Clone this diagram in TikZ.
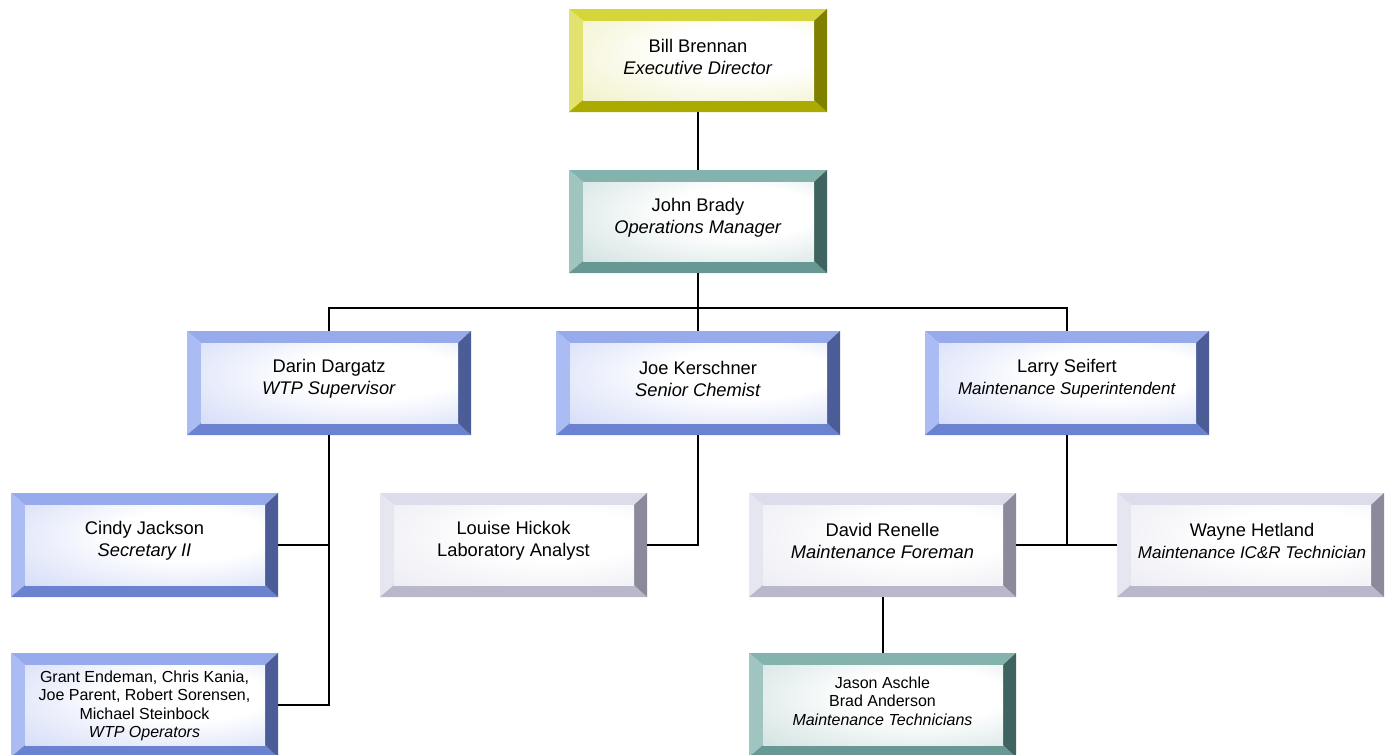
\documentclass[tikz,border=0pt]{standalone}
\usepackage{fontspec}
\setmainfont{Liberation Sans}
\usetikzlibrary{calc}
% yellow
\definecolor{YT}{RGB}{214,214,58}\definecolor{YL}{RGB}{226,226,110}\definecolor{YB}{RGB}{170,170,0}\definecolor{YR}{RGB}{128,128,0}\definecolor{YF}{RGB}{226,226,140}
% teal
\definecolor{TT}{RGB}{132,178,173}\definecolor{TL}{RGB}{160,197,193}\definecolor{TB}{RGB}{104,152,147}\definecolor{TR}{RGB}{62,99,96}\definecolor{TF}{RGB}{158,194,190}
% blue
\definecolor{BT}{RGB}{150,170,236}\definecolor{BL}{RGB}{171,188,245}\definecolor{BB}{RGB}{106,130,207}\definecolor{BR}{RGB}{75,92,150}\definecolor{BF}{RGB}{164,182,240}
% grey-lavender
\definecolor{GT}{RGB}{220,220,234}\definecolor{GL}{RGB}{230,230,240}\definecolor{GB}{RGB}{184,184,202}\definecolor{GR}{RGB}{138,138,154}\definecolor{GF}{RGB}{214,214,230}
\pgfdeclareradialshading{faceY}{\pgfpoint{12bp}{8bp}}{color(0bp)=(white); color(16bp)=(white); color(72bp)=(YF)}
\pgfdeclareradialshading{faceT}{\pgfpoint{12bp}{8bp}}{color(0bp)=(white); color(16bp)=(white); color(72bp)=(TF)}
\pgfdeclareradialshading{faceB}{\pgfpoint{12bp}{8bp}}{color(0bp)=(white); color(16bp)=(white); color(72bp)=(BF)}
\pgfdeclareradialshading{faceG}{\pgfpoint{12bp}{8bp}}{color(0bp)=(white); color(16bp)=(white); color(72bp)=(GF)}
\def\pb{path picture bounding box}
\tikzset{
  bevbox/.style={inner sep=0pt, outer sep=0pt, draw=none,
    path picture={
      \fill[#1T] (\pb.north west) -- (\pb.north east) -- ([shift={(-13pt,-12pt)}]\pb.north east) -- ([shift={(14pt,-12pt)}]\pb.north west) -- cycle;
      \fill[#1L] (\pb.north west) -- ([shift={(14pt,-12pt)}]\pb.north west) -- ([shift={(14pt,12pt)}]\pb.south west) -- (\pb.south west) -- cycle;
      \fill[#1B] (\pb.south west) -- ([shift={(14pt,12pt)}]\pb.south west) -- ([shift={(-13pt,12pt)}]\pb.south east) -- (\pb.south east) -- cycle;
      \fill[#1R] (\pb.north east) -- (\pb.south east) -- ([shift={(-13pt,12pt)}]\pb.south east) -- ([shift={(-13pt,-12pt)}]\pb.north east) -- cycle;
      \shade[shading=face#1] ([shift={(14pt,-12pt)}]\pb.north west) rectangle ([shift={(-13pt,12pt)}]\pb.south east);
    }},
  big/.style={minimum width=258pt, minimum height=103pt},
  mid/.style={minimum width=284pt, minimum height=104pt},
  low/.style={minimum width=267pt, minimum height=104pt},
  txt/.style={align=center, inner sep=0pt, font=\fontsize{18.3}{22}\selectfont},
  txts/.style={align=center, inner sep=0pt, font=\fontsize{16}{18.4}\selectfont},
  link/.style={line width=2pt, black},
}
\begin{document}
\begin{tikzpicture}[x=1pt, y=-1pt]
\useasboundingbox (0,0) rectangle (1390,755);
% boxes
\node[bevbox=Y, big] (bill) at (698,60.5) {};
\node[bevbox=T, big] (john) at (698,221.5) {};
\node[bevbox=B, mid] (darin) at (329,383) {};
\node[bevbox=B, mid] (joe) at (698,383) {};
\node[bevbox=B, mid] (larry) at (1067,383) {};
\node[bevbox=B, low] (cindy) at (144.5,545) {};
\node[bevbox=G, low] (louise) at (513.5,545) {};
\node[bevbox=G, low] (david) at (882.5,545) {};
\node[bevbox=G, low] (wayne) at (1250.5,545) {};
\node[bevbox=B, low] (grant) at (144.5,705) {};
\node[bevbox=T, low] (jason) at (882.5,705) {};
% texts
\node[txt] (billt) at ([yshift=4pt]bill.center) {Bill Brennan\\\textit{Executive Director}};
\node[txt] (johnt) at ([yshift=4pt]john.center) {John Brady\\\textit{Operations Manager}};
\node[txt] (darint) at ([yshift=4pt]darin.center) {Darin Dargatz\\\textit{WTP Supervisor}};
\node[txt] (joet) at ([yshift=4pt]joe.center) {Joe Kerschner\\\textit{Senior Chemist}};
\node[txt] (larryt) at ([yshift=4pt]larry.center) {Larry Seifert\\{\fontsize{17}{20}\selectfont\textit{Maintenance Superintendent}}};
\node[txt] (cindyt) at ([yshift=4pt]cindy.center) {Cindy Jackson\\\textit{Secretary II}};
\node[txt] (louiset) at ([yshift=4pt]louise.center) {Louise Hickok\\Laboratory Analyst};
\node[txt] (davidt) at ([yshift=4pt]david.center) {David Renelle\\\textit{Maintenance Foreman}};
\node[txt] (waynet) at ([xshift=1.5pt,yshift=4pt]wayne.center) {Wayne Hetland\\{\fontsize{17}{20}\selectfont\textit{Maintenance IC\&R Technician}}};
\node[txts] (grantt) at ([yshift=-1pt]grant.center) {Grant Endeman, Chris Kania,\\Joe Parent, Robert Sorensen,\\Michael Steinbock\\\textit{WTP Operators}};
\node[txts] (jasont) at ([yshift=4pt]jason.center) {Jason Aschle\\Brad Anderson\\\textit{Maintenance Technicians}};
% connectors
\coordinate (bus) at (698,308);
\draw[link] (bill.south) -- (john.north);
\draw[link] (john.south) -- (bus);
\draw[link] (darin.north) |- (bus) -| (larry.north);
\draw[link] (bus) -- (joe.north);
\draw[link] (darin.south) |- (grant.east);
\draw[link] (cindy.east) -- (cindy.east -| darin.south);
\draw[link] (joe.south) |- (louise.east);
\draw[link] (david.east) -- (wayne.west);
\draw[link] (larry.south) -- (larry.south |- david.east);
\draw[link] (david.south) -- (jason.north);
\end{tikzpicture}
\end{document}
